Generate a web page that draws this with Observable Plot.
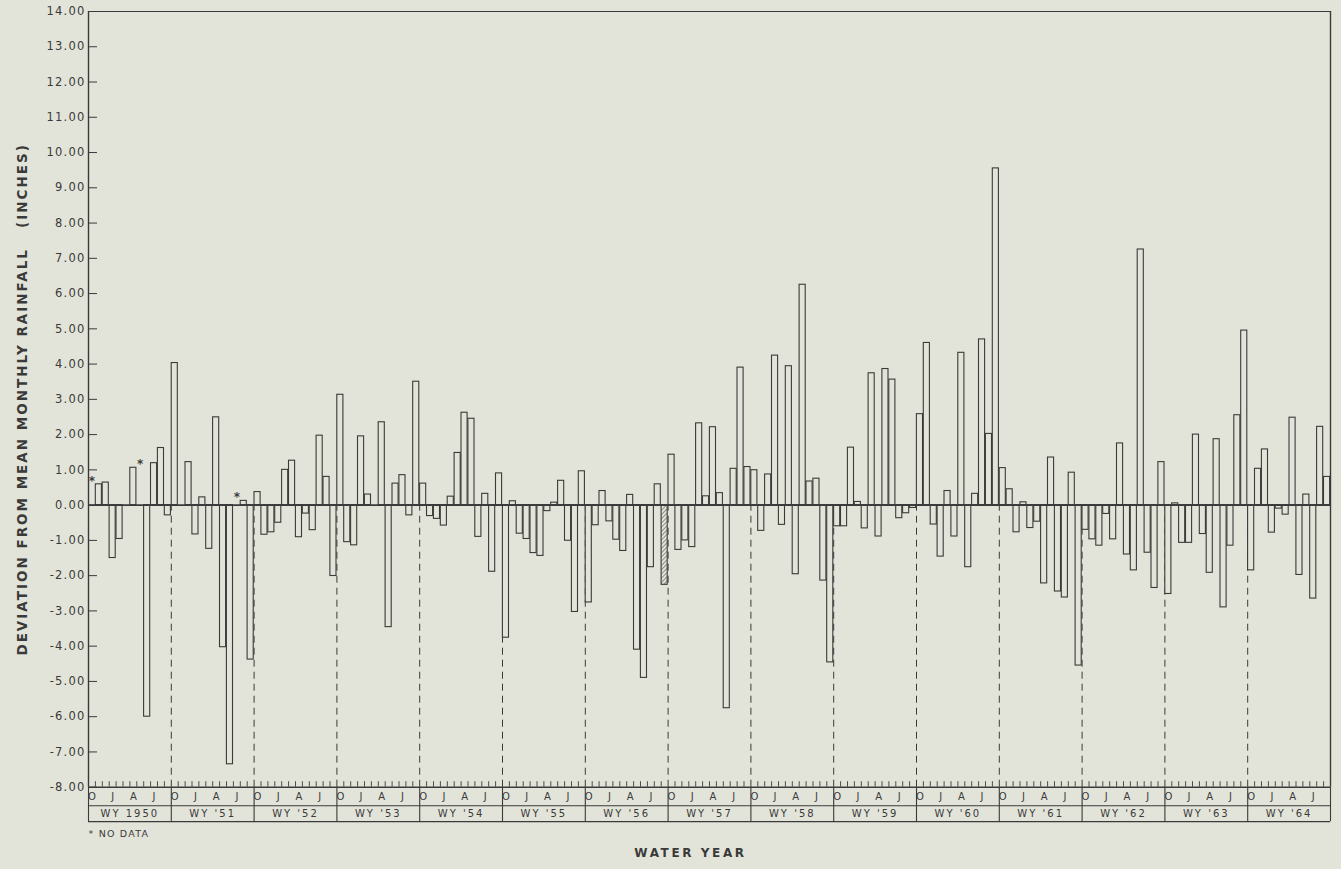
<!DOCTYPE html>
<html><head><meta charset="utf-8">
<script src="https://cdn.jsdelivr.net/npm/d3@7"></script>
<script src="https://cdn.jsdelivr.net/npm/@observablehq/plot@0.6"></script>
<style>
html,body{margin:0;padding:0;background:#e3e4d9;}
#chart svg{display:block;}
</style></head><body><div id="chart"></div>
<script>
// ---- data (deviation from mean monthly rainfall, inches; Oct..Sep; null = no data)
const waterYears = ["WY 1950","WY '51","WY '52","WY '53","WY '54","WY '55","WY '56","WY '57","WY '58","WY '59","WY '60","WY '61","WY '62","WY '63","WY '64"];
const monthLetters = ["O","N","D","J","F","M","A","M","J","J","A","S"];
const wy1950 = [null, 0.59, 0.64, -1.50, -0.96, 0, 1.06, null, -6.00, 1.19, 1.62, -0.29];
const wy1951 = [4.03, 0, 1.22, -0.83, 0.22, -1.24, 2.49, -4.03, -7.35, null, 0.12, -4.38];
const wy1952 = [0.37, -0.84, -0.77, -0.50, 1.00, 1.26, -0.91, -0.24, -0.71, 1.97, 0.80, -2.01];
const wy1953 = [3.13, -1.05, -1.14, 1.95, 0.30, 0, 2.35, -3.46, 0.61, 0.85, -0.29, 3.50];
const wy1954 = [0.61, -0.31, -0.39, -0.58, 0.24, 1.48, 2.62, 2.45, -0.90, 0.32, -1.89, 0.90];
const wy1955 = [-3.76, 0.11, -0.81, -0.96, -1.36, -1.44, -0.17, 0.07, 0.69, -1.01, -3.03, 0.96];
const wy1956 = [-2.76, -0.57, 0.40, -0.46, -0.98, -1.30, 0.29, -4.10, -4.90, -1.76, 0.59, -2.26];
const wy1957 = [1.43, -1.27, -1.00, -1.19, 2.32, 0.25, 2.21, 0.34, -5.76, 1.03, 3.90, 1.08];
const wy1958 = [0.99, -0.73, 0.87, 4.24, -0.56, 3.94, -1.96, 6.25, 0.67, 0.75, -2.14, -4.46];
const wy1959 = [-0.60, -0.60, 1.63, 0.09, -0.66, 3.74, -0.89, 3.86, 3.56, -0.37, -0.23, -0.08];
const wy1960 = [2.58, 4.60, -0.55, -1.46, 0.40, -0.89, 4.32, -1.76, 0.32, 4.70, 2.02, 9.55];
const wy1961 = [1.05, 0.45, -0.77, 0.08, -0.65, -0.47, -2.22, 1.35, -2.45, -2.62, 0.92, -4.55];
const wy1962 = [-0.70, -0.97, -1.15, -0.25, -0.97, 1.75, -1.40, -1.85, 7.25, -1.35, -2.35, 1.22];
const wy1963 = [-2.52, 0.05, -1.07, -1.07, 2.00, -0.82, -1.92, 1.87, -2.90, -1.15, 2.55, 4.95];
const wy1964 = [-1.85, 1.03, 1.58, -0.78, -0.10, -0.27, 2.48, -1.98, 0.30, -2.65, 2.22, 0.80];
const hatchedIdx = [83]; // WY '56, September (shaded bar)
const yTicks = [14,13,12,11,10,9,8,7,6,5,4,3,2,1,0,-1,-2,-3,-4,-5,-6,-7,-8];
const yTickLabels = ["14.00","13.00","12.00","11.00","10.00","9.00","8.00","7.00","6.00","5.00","4.00","3.00","2.00","1.00","0.00","-1.00","-2.00","-3.00","-4.00","-5.00","-6.00","-7.00","-8.00"];
const yTitle = "DEVIATION FROM MEAN MONTHLY RAINFALL\u00a0\u00a0\u00a0(INCHES)";
const xTitle = "WATER YEAR";
const noDataNote = "* NO DATA";

// ---- build table
const years = [wy1950,wy1951,wy1952,wy1953,wy1954,wy1955,wy1956,wy1957,wy1958,wy1959,wy1960,wy1961,wy1962,wy1963,wy1964];
const rows = [];
years.forEach((vals, k) => vals.forEach((v, m) => rows.push({idx: k*12+m, k, m, value: v})));
const bars = rows.filter(d => d.value !== null);
const noData = rows.filter(d => d.value === null).map(d => {
  const nb = [rows[d.idx-1], rows[d.idx+1]].filter(r => r && r.value !== null).map(r => r.value);
  return {...d, level: Math.max(0, ...nb) + 0.18};
});
const nMonths = rows.length;

const W = 1341, H = 869, mL = 88, mR = 11, mT = 11, mB = 82.3;
const ppu = (H - mT - mB) / 22;            // px per inch
const ppm = (W - mL - mR) / nMonths;       // px per month
const below = px => -8 - px / ppu;          // value for a pixel offset below the -8 line
const bg = "#e3e4d9", ink = "#3a3a3a";
const yearStarts = d3.range(0, nMonths + 1, 12);
const monthTicks = d3.range(1, nMonths).filter(i => i % 12 !== 0);
const letterRows = rows.filter(d => d.m % 3 === 0);

const chart = Plot.plot({
  width: W, height: H,
  marginLeft: mL, marginRight: mR, marginTop: mT, marginBottom: mB,
  style: {background: bg, fontFamily: "DejaVu Sans", color: ink},
  x: {type: "linear", domain: [0, nMonths], axis: null},
  y: {domain: [-8, 14], axis: null},
  marks: [
    Plot.ruleX(yearStarts.slice(1, -1), {y1: -8, y2: 0, stroke: ink, strokeWidth: 1, strokeDasharray: "7,5"}),
    Plot.rect(bars, {x1: d => d.idx, x2: d => d.idx + 1, y1: 0, y2: d => d.value,
      fill: d => hatchedIdx.includes(d.idx) ? "url(#hatch)" : bg, stroke: ink, strokeWidth: 1.1, insetLeft: 0.4, insetRight: 0.4}),
    Plot.ruleY([0], {stroke: ink, strokeWidth: 1.6}),
    Plot.ruleY([14], {stroke: ink, strokeWidth: 1.2}),
    Plot.ruleY([-8], {stroke: ink, strokeWidth: 1.4}),
    Plot.ruleY([-8], {stroke: ink, strokeWidth: 1.1, dy: 18.5}),
    Plot.ruleY([-8], {stroke: ink, strokeWidth: 1.3, dy: 34.5}),
    Plot.ruleX([0, nMonths], {y1: -8, y2: 14, stroke: ink, strokeWidth: 1.4}),
    Plot.ruleX(yearStarts, {y1: -8, y2: below(34.5), stroke: ink, strokeWidth: 1.1}),
    Plot.ruleX(monthTicks, {y1: -8, y2: -8 + 5.5 / ppu, stroke: ink, strokeWidth: 0.9}),
    Plot.ruleY(yTicks, {x1: 0, x2: 9 / ppm, stroke: ink, strokeWidth: 1}),
    Plot.text(yTicks, {x: 0, y: d => d, text: (d, i) => yTickLabels[i], textAnchor: "end", dx: -3, fontSize: 11.5, fill: ink}),
    Plot.text(letterRows, {x: d => d.idx + 0.5, y: -8, dy: 10, text: d => monthLetters[d.m], fontSize: 10, fill: ink}),
    Plot.text(waterYears, {x: (d, i) => yearStarts[i] + 6, y: -8, dy: 27, text: d => d, fontSize: 10, fill: ink}),
    Plot.text(noData, {x: d => d.idx + 0.5, y: d => d.level, text: () => "*", fontSize: 12, fontWeight: "bold", dy: 3, fill: ink}),
    Plot.text([yTitle], {frameAnchor: "left", textAnchor: "middle", rotate: -90, dx: -66, fontSize: 13.5, fontWeight: "bold", fill: ink}),
    Plot.text([xTitle], {frameAnchor: "bottom", textAnchor: "middle", dx: -19, dy: 70, fontSize: 12, fontWeight: "bold", fill: ink}),
    Plot.text([noDataNote], {frameAnchor: "bottom-left", textAnchor: "start", dy: 50, fontSize: 9.5, fill: ink})
  ]
});

const s = d3.select(chart);
const defs = s.insert("defs", ":first-child");
const p = defs.append("pattern").attr("id", "hatch").attr("patternUnits", "userSpaceOnUse")
  .attr("width", 3).attr("height", 3).attr("patternTransform", "rotate(45)");
p.append("rect").attr("width", 3).attr("height", 3).attr("fill", bg);
p.append("line").attr("x1", 0).attr("y1", 0).attr("x2", 0).attr("y2", 3).attr("stroke", ink).attr("stroke-width", 1);
// letter spacing by text role
s.selectAll("text").each(function() {
  const t = this.textContent;
  let ls = null;
  if (yTickLabels.includes(t)) ls = "1.2px";
  else if (waterYears.includes(t)) ls = "2px";
  else if (t === yTitle) ls = "2px";
  else if (t === xTitle) ls = "2.6px";
  else if (t === noDataNote) ls = "1.2px";
  if (ls) this.setAttribute("letter-spacing", ls);
});
document.getElementById("chart").appendChild(chart);
</script></body></html>
